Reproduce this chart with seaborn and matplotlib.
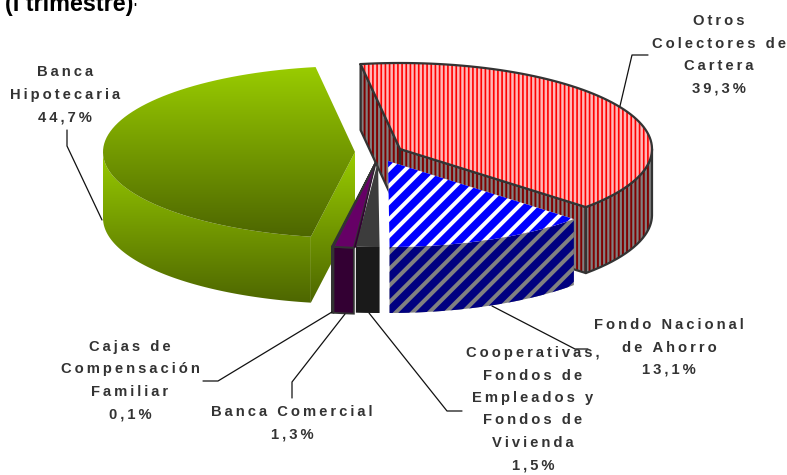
import numpy as np
import matplotlib
matplotlib.use('Agg')
import matplotlib as mpl
import matplotlib.pyplot as plt
from matplotlib.patches import Polygon
import seaborn as sns

# share of each segment, clockwise from the top of the pie
categories = ['Otros\nColectores de\nCartera', 'Fondo Nacional\nde Ahorro',
              'Cooperativas,\nFondos de\nEmpleados y\nFondos de\nVivienda',
              'Banca Comercial', 'Cajas de\nCompensación\nFamiliar', 'Banca\nHipotecaria']
shares = [39.3, 13.1, 1.5, 1.3, 0.1, 44.7]
share_labels = ['39,3%', '13,1%', '1,5%', '1,3%', '0,1%', '44,7%']
title_text = '(I trimestre)'

START = -9.0
RX, RY = 252.0, 86.0
DEPTH = 66.0
OUTLINE = '#333333'
GREEN_TOP, GREEN_DARK = '#99cc00', '#4d6600'

# exploded centre of each slice, in pixels
centres = [(400, 149), (388, 161), (378, 161), (376, 162), (376, 162), (355, 152)]
# label centre x and the y of the first line
label_pos = [(719, 21), (669, 325), (533, 353), (292, 412), (130, 347), (65, 72)]
leaders = [[(620, 106), (632, 55), (648, 55)],
           [(492, 306), (575, 349), (588, 349)],
           [(369, 313), (447, 411), (462, 411)],
           [(345, 314), (292, 382), (292, 398)],
           [(332, 312), (218, 381), (203, 381)],
           [(102, 220), (67, 146), (67, 130)]]

sns.set_theme(style='white')
plt.rcParams['font.family'] = ['Liberation Sans', 'DejaVu Sans']

fig = plt.figure(figsize=(7.87, 4.75), dpi=100)
ax = fig.add_axes([0, 0, 1, 1])
ax.axis('off')

edges = START + np.concatenate([[0], np.cumsum(shares)]) * 3.6
layer = [1]


def next_z():
    layer[0] += 1
    return layer[0]


def rim(i, a, b):
    t = np.radians(np.linspace(a, b, 80))
    cx, cy = centres[i]
    return np.column_stack([cx + RX * np.sin(t), cy - RY * np.cos(t)])


def top_face(i):
    return np.vstack([[centres[i]], rim(i, edges[i], edges[i + 1])])


def wall(pts):
    return np.vstack([pts, (pts + [0, DEPTH])[::-1]])


class HatchPoly(Polygon):
    # each hatch keeps its own line width
    def __init__(self, xy, hatch_lw, **kw):
        self.hatch_lw = hatch_lw
        with mpl.rc_context({'hatch.linewidth': hatch_lw}):
            super().__init__(xy, closed=True, **kw)

    def draw(self, renderer):
        with mpl.rc_context({'hatch.linewidth': self.hatch_lw}):
            super().draw(renderer)


def striped(pts, face, stripe, hatch, lw, outline=False):
    ax.add_patch(HatchPoly(pts, lw, facecolor=face, edgecolor=stripe, hatch=hatch, linewidth=0, zorder=next_z()))
    if outline:
        closed = np.vstack([pts, pts[:1]])
        ax.plot(closed[:, 0], closed[:, 1], color=OUTLINE, lw=1.6, zorder=next_z())


def flat(pts, color, outline=False):
    ax.add_patch(Polygon(pts, closed=True, facecolor=color, edgecolor=OUTLINE if outline else 'none',
                         linewidth=1.3 if outline else 0, zorder=next_z()))


def gradient(pts, y0, y1):
    cmap = sns.blend_palette([GREEN_TOP, GREEN_DARK], as_cmap=True)
    clip = Polygon(pts, closed=True, facecolor='none', edgecolor='none')
    ax.add_patch(clip)
    im = ax.imshow(np.linspace(0, 1, 256)[:, None], cmap=cmap, aspect='auto', zorder=next_z(),
                   extent=[pts[:, 0].min(), pts[:, 0].max(), y1, y0])
    im.set_clip_path(clip)


# red slice: walls first, then the top
c0 = np.array([centres[0]], dtype=float)
red_rim = rim(0, 90, edges[1])
cut_left = np.vstack([rim(0, edges[0], edges[0])[:1], c0])
cut_front = np.vstack([c0, rim(0, edges[1], edges[1])[:1]])
for pts in (cut_left, cut_front, red_rim):
    striped(wall(pts), '#808080', '#800000', '||||', 1.4, outline=True)
striped(top_face(0), '#ffb8b8', '#ff0000', '||||', 1.2, outline=True)

# green slice, same gradient on every face
c5 = np.array([centres[5]], dtype=float)
green_rim = rim(5, edges[5], 270)
gradient(wall(np.vstack([c5, rim(5, edges[5], edges[5])[:1]])), centres[5][1], 303)
gradient(wall(green_rim), 150, 303)
gradient(top_face(5), 67, 237)

# blue slice
striped(wall(rim(1, edges[1], edges[2])), '#808080', '#000080', '//', 5.6)
striped(top_face(1), '#ffffff', '#0000ff', '//', 5.6)

# the three thin slices
for i, top, front in [(4, '#660066', '#330033'), (3, '#660066', '#330033')]:
    flat(wall(rim(i, edges[i], edges[i + 1])), front, outline=True)
    flat(top_face(i), top, outline=True)
corner = rim(3, edges[3], edges[3])[0]
flat(np.array([centres[3], corner, corner + [3, 0]], dtype=float), '#330033')
flat(wall(rim(2, edges[2], edges[3])), '#1a1a1a')
flat(top_face(2), '#3c3c3c')

ax.set_xlim(0, 787)
ax.set_ylim(475, 0)

for line in leaders:
    xs, ys = zip(*line)
    ax.plot(xs, ys, color='#111111', lw=0.9, zorder=next_z())

SPACE = '\u2009'
for cat, pct, (x, y) in zip(categories, share_labels, label_pos):
    for k, line in enumerate(cat.split('\n') + [pct]):
        ax.text(x, y + k * 22.5, SPACE.join(line), ha='center', va='center', fontsize=10.6,
                fontweight='bold', color='#333333', zorder=next_z())

ax.text(5, 11, title_text, ha='left', va='baseline', fontsize=16.8, fontweight='bold', color='black')
ax.text(133, 12, "'", ha='left', va='baseline', fontsize=9, fontweight='bold', color='black')

fig.savefig('out.png', dpi=100, facecolor='white')
